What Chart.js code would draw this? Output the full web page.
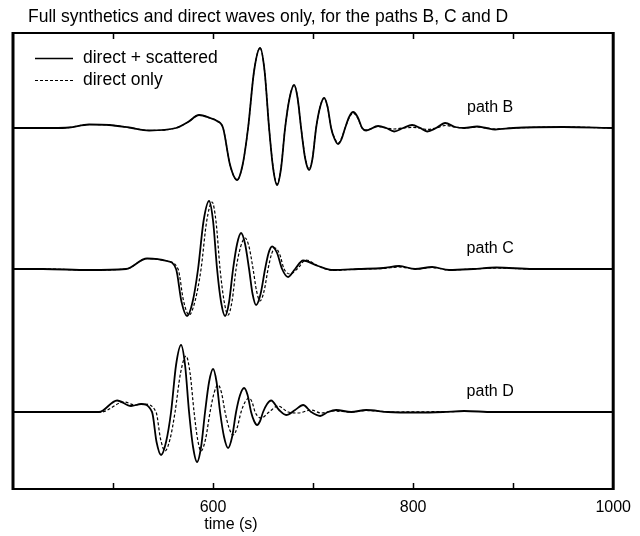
<!DOCTYPE html>
<html>
<head>
<meta charset="utf-8">
<script src="https://cdn.jsdelivr.net/npm/chart.js@4"></script>
<style>
  html, body { margin: 0; padding: 0; background: #fff; }
</style>
</head>
<body>
<canvas id="chart" width="640" height="536"></canvas>
<script>
// axis ticks
const xTickLabels = [600, 800, 1000];
const xTickMarks = [500, 600, 700, 800, 900];

// baseline of each trace (same units as the amplitudes)
const offsetB = 284;
const offsetC = 143;
const offsetD = 0;

// path B
const timeBFull = [400, 440, 456, 476, 496, 516, 536, 563, 575, 586, 597, 604, 610, 617, 624, 629.5, 635, 641, 647, 651.5, 656, 660, 664, 668, 672, 676.5, 681, 684.5, 688, 692, 696, 699.5, 703, 707, 711, 714.5, 718, 721.5, 725, 728.5, 732, 736, 740, 744.5, 749, 753, 765, 773, 781, 790, 799, 807, 814, 823, 832, 842, 851, 864, 873, 882, 900, 950, 1000];
const ampBFull = [0, 0, 0.5, 3.5, 3, 0.5, -2.5, 0, 6, 13, 10, 7, 0, -37, -52, -37, 0, 57, 80, 57, 0, -40, -57, -40, 0, 30, 43, 30, 0, -30, -42, -30, 0, 21, 30, 21, 0, -11, -16, -11, 0, 11, 16, 11, 0, -2.5, 2, 0, -3.5, 0, 3, 0, -3.5, 0, 5, 1, 0, 1.5, 0, -1.5, 0, 1, 0];
const timeBDirect = [400, 440, 456, 476, 496, 516, 536, 563, 575, 586, 597, 604, 610, 617, 624, 629.5, 635, 641, 647, 651.5, 656, 660, 664, 668, 672, 676.5, 681, 684.5, 688, 692, 696, 699.5, 703, 707, 711, 714.5, 718, 721.5, 725, 728.5, 732, 736, 740, 744.5, 749, 753, 765, 773, 781, 790, 799, 807, 814, 823, 832, 842, 851, 864, 873, 882, 900, 950, 1000];
const ampBDirect = [0, 0, 0.5, 3.5, 3, 0.5, -2.5, 0, 6, 13, 10, 7, 0, -37, -52, -37, 0, 57, 80, 57, 0, -39, -56, -39, 0, 30, 43, 30, 0, -29, -41, -29, 0, 21, 30, 21, 0, -10, -15, -10, 0, 10, 15, 10, 0, -2, 1.5, 0, -1, 0, 0.5, 0, -1.5, 0, 2.5, 1, 0, 1, 0, -1, 0, 1, 0];

// path C
const timeCFull = [400, 430, 476, 513, 534, 554, 563, 568.5, 574, 579.5, 585, 590.5, 596, 600, 604, 608, 612, 616, 620, 624, 628, 632, 636, 639.5, 643, 647.5, 652, 655.5, 659, 664, 669, 675, 682, 690, 705, 720, 745, 770, 786, 802, 819, 836, 860, 883, 920, 1000];
const ampCFull = [0, 0, -1, 0, 10.5, 8, 0, -33, -47, -33, 0, 48, 68, 48, 0, -33, -47, -33, 0, 25, 36, 25, 0, -25, -36, -25, 0, 16, 22.5, 16, 0, -8, 0, 8.5, 3, -1, 0, 1, 3, 0, 2, -1, 0, 1.5, 0, 0];
const timeCDirect = [400, 430, 476, 513, 534, 554, 565, 570.5, 576, 582, 588, 593.5, 599, 603, 607, 611, 615, 619, 623, 627.5, 632, 636, 640, 643.5, 647, 651, 655, 658.5, 662, 666.5, 671, 677, 684, 693, 705, 720, 745, 770, 786, 802, 819, 836, 860, 883, 920, 1000];
const ampCDirect = [0, 0, -1, 0, 10.5, 8, 0, -32, -46, -32, 0, 47, 67, 47, 0, -32, -46, -32, 0, 22, 31, 22, 0, -22, -32, -22, 0, 15, 21, 15, 0, -5, 0, 9, 3, -1.5, 0, 0.5, 2, 0, 1.5, -1, 0, 1, 0, 0];

// path D
const timeDFull = [400, 470, 486, 504, 518, 528, 539, 543.5, 548, 553, 558, 563, 568, 572, 576, 580, 584, 588, 592, 596, 600, 603.5, 607, 611, 615, 619, 623, 627, 631, 634.5, 638, 641, 644, 647, 650, 654, 658, 666, 673, 682, 690, 698, 707, 715, 723, 738, 753, 775, 804, 830, 851, 880, 1000];
const ampDFull = [0, 0, 0, 11.5, 6, 8, 0, -30, -43, -30, 0, 47, 67, 47, 0, -35, -50, -35, 0, 30, 43, 30, 0, -25, -36, -25, 0, 17, 24, 17, 0, -9, -13, -9, 0, 8, 11.5, 2, -3, 2, 7, 0, -4, 0, 2, 0, 2, 0, -0.5, 0, 1, 0, 0];
const timeDDirect = [400, 470, 488, 511, 522, 531, 543, 547.5, 552, 557, 562, 567.5, 573, 577, 581, 584.5, 588, 592.5, 597, 601, 605, 608.5, 612, 616, 620, 624, 628, 632, 636, 639, 642, 648, 656, 665, 675, 685, 698, 708, 720, 738, 753, 780, 851, 1000];
const ampDDirect = [0, 0, 0, 10, 7, 8, 0, -27, -39, -27, 0, 39, 56, 39, 0, -27, -39, -27, 0, 19, 27, 19, 0, -16, -23, -16, 0, 10, 14, 10, 0, -6, 0, 6, 0, -1, 2, -1, 1, 0, 1.5, 0, 0.5, 0];

const pathLabels = ['path B', 'path C', 'path D'];
const legendLabels = ['direct + scattered', 'direct only'];

function toPoints(times, amps, offset) {
    return times.map((t, i) => ({ x: t, y: offset + amps[i] }));
}

function trace(times, amps, offset, dashed) {
    return {
        data: toPoints(times, amps, offset),
        borderColor: '#000',
        borderWidth: dashed ? 1.2 : 1.8,
        borderDash: dashed ? [3, 2] : [],
        pointRadius: 0,
        fill: false,
        tension: 0.4,
        cubicInterpolationMode: 'monotone'
    };
}

const font = '"Liberation Sans", Arial, Helvetica, sans-serif';

// frame, inward ticks and all the loose text
const decorations = {
    id: 'decorations',
    afterDraw(chart) {
        const ctx = chart.ctx;
        const a = chart.chartArea;
        const xs = chart.scales.x;
        const ys = chart.scales.y;
        ctx.save();
        ctx.strokeStyle = '#000';
        ctx.fillStyle = '#000';

        // box
        ctx.lineWidth = 2;
        ctx.beginPath();
        ctx.moveTo(a.left, a.top); ctx.lineTo(a.right, a.top);
        ctx.moveTo(a.left, a.bottom); ctx.lineTo(a.right, a.bottom);
        ctx.stroke();
        ctx.lineWidth = 3;
        ctx.beginPath();
        ctx.moveTo(a.left, a.top - 1); ctx.lineTo(a.left, a.bottom + 1);
        ctx.moveTo(a.right, a.top - 1); ctx.lineTo(a.right, a.bottom + 1);
        ctx.stroke();

        // ticks pointing inwards
        ctx.lineWidth = 1.5;
        ctx.beginPath();
        xTickMarks.forEach(v => {
            const px = Math.round(xs.getPixelForValue(v)) + 0.5;
            ctx.moveTo(px, a.bottom); ctx.lineTo(px, a.bottom - 6);
            ctx.moveTo(px, a.top); ctx.lineTo(px, a.top + 6);
        });
        ctx.stroke();

        // title
        ctx.font = '17.5px ' + font;
        ctx.textBaseline = 'alphabetic';
        ctx.textAlign = 'left';
        ctx.fillText('Full synthetics and direct waves only, for the paths B, C and D', 28, 22);

        // legend
        ctx.lineWidth = 1.5;
        ctx.beginPath();
        ctx.moveTo(35, 58.5); ctx.lineTo(73, 58.5);
        ctx.stroke();
        ctx.lineWidth = 1.1;
        ctx.setLineDash([3, 2]);
        ctx.beginPath();
        ctx.moveTo(35, 80.5); ctx.lineTo(73, 80.5);
        ctx.stroke();
        ctx.setLineDash([]);
        ctx.textBaseline = 'middle';
        ctx.fillText(legendLabels[0], 83, 58);
        ctx.fillText(legendLabels[1], 83, 80);

        // trace names
        ctx.font = '16px ' + font;
        ctx.textAlign = 'center';
        ctx.textBaseline = 'alphabetic';
        [offsetB, offsetC, offsetD].forEach((off, i) => {
            ctx.fillText(pathLabels[i], xs.getPixelForValue(877), ys.getPixelForValue(off + 16));
        });

        // axis title
        ctx.textBaseline = 'middle';
        ctx.fillText('time (s)', 231, 525);
        ctx.restore();
    }
};

new Chart(document.getElementById('chart'), {
    type: 'line',
    data: {
        datasets: [
            trace(timeBFull, ampBFull, offsetB, false),
            trace(timeBDirect, ampBDirect, offsetB, true),
            trace(timeCFull, ampCFull, offsetC, false),
            trace(timeCDirect, ampCDirect, offsetC, true),
            trace(timeDFull, ampDFull, offsetD, false),
            trace(timeDDirect, ampDDirect, offsetD, true)
        ]
    },
    options: {
        responsive: false,
        animation: false,
        events: [],
        layout: { padding: { left: 13, right: 23, top: 33, bottom: 0 } },
        plugins: {
            legend: { display: false },
            tooltip: { enabled: false }
        },
        scales: {
            x: {
                type: 'linear',
                min: 400,
                max: 1000,
                afterBuildTicks: s => { s.ticks = xTickLabels.map(v => ({ value: v })); },
                afterFit: s => { s.height = 47; },
                grid: { display: false, drawTicks: false },
                border: { display: false },
                ticks: {
                    padding: 9,
                    color: '#000',
                    maxRotation: 0,
                    autoSkip: false,
                    font: { family: font, size: 16 },
                    callback: v => String(v)
                }
            },
            y: {
                display: false,
                min: -77,
                max: 379
            }
        }
    },
    plugins: [decorations]
});
</script>
</body>
</html>
